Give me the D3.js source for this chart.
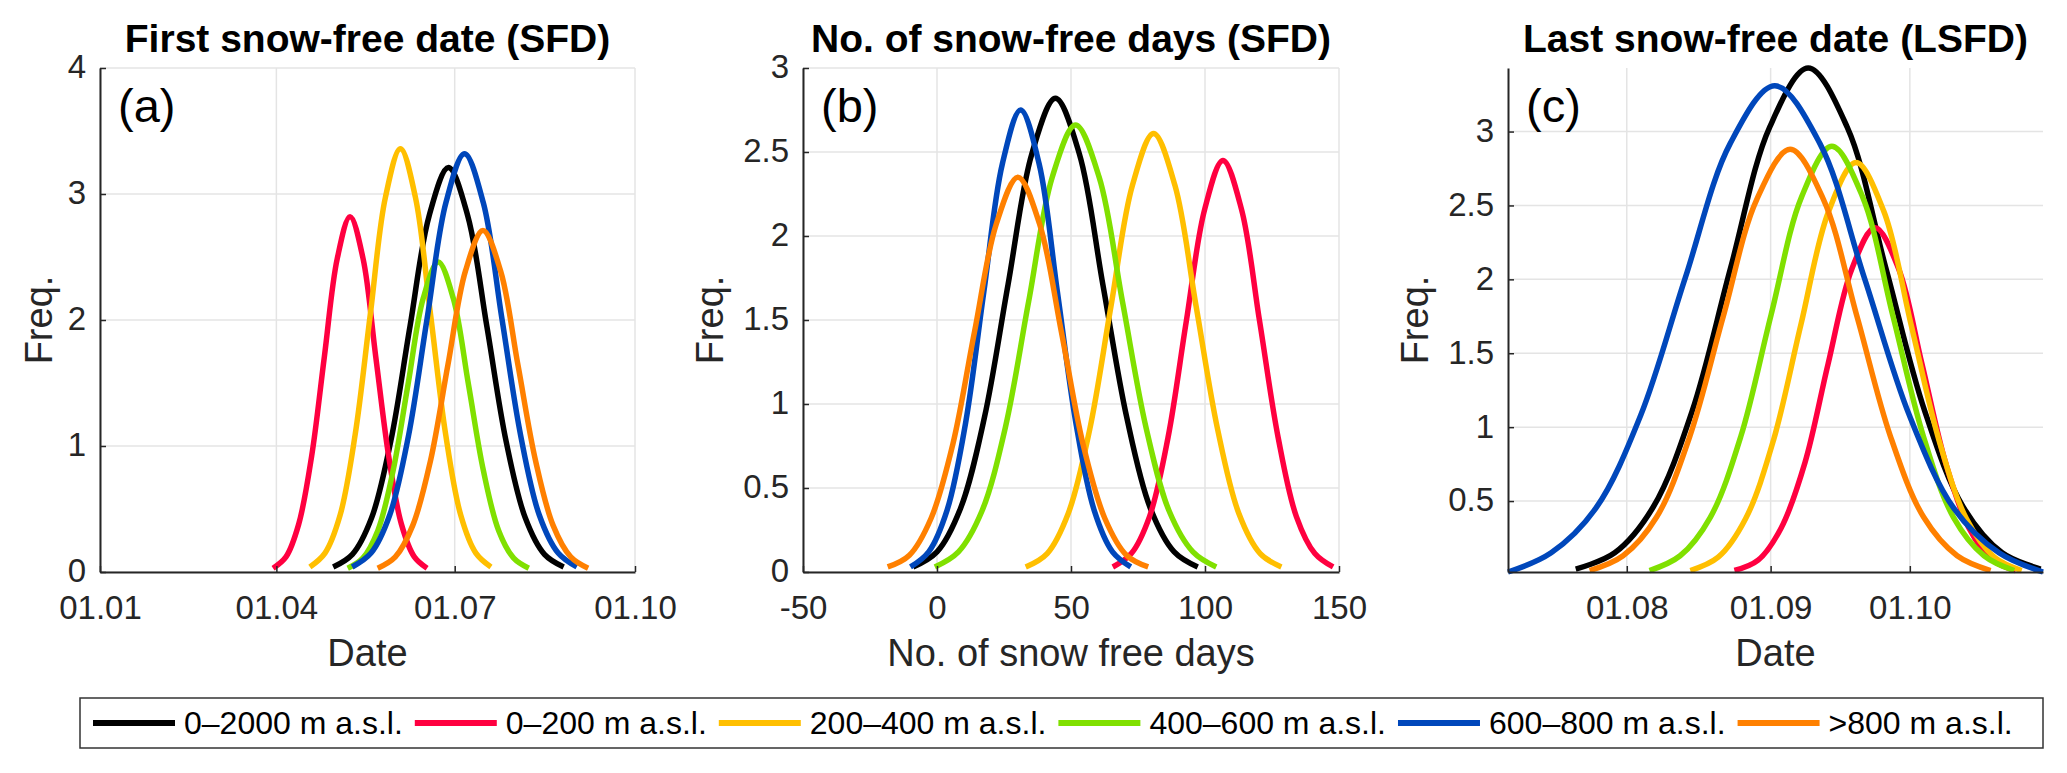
<!DOCTYPE html>
<html>
<head>
<meta charset="utf-8">
<script src="https://cdn.jsdelivr.net/npm/d3@7"></script>
<style>
  html, body { margin: 0; padding: 0; background: #fff; }
  svg { display: block; }
</style>
</head>
<body>
<svg id="chart" width="2067" height="773"></svg>
<script>
// ---------------- DATA ----------------
const seriesNames = ["0\u20132000 m a.s.l.", "0\u2013200 m a.s.l.", "200\u2013400 m a.s.l.", "400\u2013600 m a.s.l.", "600\u2013800 m a.s.l.", ">800 m a.s.l."];
const seriesColors = ["#000000", "#ff0040", "#ffbf00", "#80e000", "#0047bb", "#ff8000"];

// (a) First snow-free date: x = day of year (0 = 1 Jan)
const fsdDay = [
  [119.0,128.8,138.6,148.4,158.2,168.0,177.8,187.6,197.4,207.2,217.0,226.8,236.6],
  [88.3,94.9,101.4,108.0,114.5,121.1,127.6,134.2,140.7,147.3,153.8,160.4,166.9],
  [107.1,114.8,122.5,130.2,137.9,145.6,153.3,161.0,168.7,176.4,184.1,191.8,199.5],
  [126.4,134.1,141.8,149.5,157.2,164.9,172.6,180.3,188.0,195.7,203.4,211.1,218.8],
  [128.7,138.3,147.8,157.4,166.9,176.5,186.0,195.6,205.1,214.7,224.2,233.8,243.3],
  [141.7,150.7,159.6,168.6,177.5,186.5,195.4,204.4,213.3,222.3,231.2,240.2,249.1]
];
const fsdFreq = [
  [0.04,0.14,0.43,1.04,1.95,2.83,3.21,2.83,1.95,1.04,0.43,0.14,0.04],
  [0.03,0.12,0.38,0.92,1.71,2.49,2.82,2.49,1.71,0.92,0.38,0.12,0.03],
  [0.04,0.15,0.45,1.09,2.04,2.97,3.36,2.97,2.04,1.09,0.45,0.15,0.04],
  [0.03,0.11,0.33,0.80,1.49,2.17,2.46,2.17,1.49,0.80,0.33,0.11,0.03],
  [0.04,0.15,0.45,1.08,2.01,2.93,3.32,2.93,2.01,1.08,0.45,0.15,0.04],
  [0.03,0.12,0.37,0.88,1.64,2.39,2.71,2.39,1.64,0.88,0.37,0.12,0.03]
];
const fsdXTicks = [0, 90, 181, 273];
const fsdXTickLabels = ["01.01", "01.04", "01.07", "01.10"];
const fsdYTicks = [0, 1, 2, 3, 4];

// (b) Number of snow-free days
const sfdDays = [
  [-8.9,0.0,8.8,17.7,26.5,35.4,44.2,53.1,61.9,70.8,79.6,88.5,97.3],
  [65.6,72.5,79.3,86.2,93.0,99.9,106.7,113.6,120.4,127.3,134.1,141.0,147.8],
  [33.1,41.1,49.0,57.0,64.9,72.9,80.8,88.8,96.7,104.7,112.6,120.6,128.5],
  [-0.8,8.0,16.7,25.5,34.2,43.0,51.7,60.5,69.2,78.0,86.7,95.5,104.2],
  [-9.9,-3.1,3.8,10.7,17.5,24.4,31.2,38.1,44.9,51.8,58.6,65.5,72.3],
  [-18.4,-10.3,-2.2,5.9,14.0,22.1,30.2,38.3,46.4,54.5,62.6,70.7,78.8]
];
const sfdFreq = [
  [0.03,0.12,0.38,0.92,1.71,2.49,2.82,2.49,1.71,0.92,0.38,0.12,0.03],
  [0.03,0.11,0.33,0.80,1.49,2.16,2.45,2.16,1.49,0.80,0.33,0.11,0.03],
  [0.03,0.11,0.35,0.85,1.58,2.30,2.61,2.30,1.58,0.85,0.35,0.11,0.03],
  [0.03,0.12,0.36,0.86,1.61,2.35,2.66,2.35,1.61,0.86,0.36,0.12,0.03],
  [0.03,0.12,0.37,0.89,1.67,2.43,2.75,2.43,1.67,0.89,0.37,0.12,0.03],
  [0.03,0.10,0.32,0.76,1.43,2.07,2.35,2.07,1.43,0.76,0.32,0.10,0.03]
];
const sfdXTicks = [-50, 0, 50, 100, 150];
const sfdXTickLabels = ["-50", "0", "50", "100", "150"];
const sfdYTicks = [0, 0.5, 1, 1.5, 2, 2.5, 3];

// (c) Last snow-free date: x = day of year (0 = 1 Jan)
const lsfdDay = [
  [201.0,209.4,217.7,226.1,234.4,242.8,251.1,259.5,267.8,276.2,284.5,292.9,301.2],
  [235.2,240.3,245.3,250.4,255.4,260.5,265.5,270.6,275.6,280.7,285.7,290.8,295.8],
  [225.7,231.7,237.6,243.6,249.5,255.5,261.4,267.4,273.3,279.3,285.2,291.2,297.1],
  [216.9,223.5,230.0,236.6,243.1,249.7,256.2,262.8,269.3,275.9,282.4,289.0,295.5],
  [186.4,195.7,205.3,215.0,224.6,234.3,243.9,253.6,263.2,272.9,282.5,292.2,301.7],
  [204.0,211.2,218.4,225.6,232.8,240.0,247.2,254.4,261.6,268.8,276.0,283.2,290.4]
];
const lsfdFreq = [
  [0.04,0.15,0.46,1.11,2.08,3.03,3.43,3.03,2.08,1.11,0.46,0.15,0.04],
  [0.03,0.10,0.32,0.76,1.43,2.07,2.35,2.07,1.43,0.76,0.32,0.10,0.03],
  [0.03,0.12,0.38,0.91,1.69,2.46,2.79,2.46,1.69,0.91,0.38,0.12,0.03],
  [0.03,0.13,0.39,0.94,1.76,2.56,2.90,2.56,1.76,0.94,0.39,0.13,0.03],
  [0.02,0.15,0.45,1.08,2.01,2.92,3.31,2.92,2.01,1.08,0.45,0.15,0.02],
  [0.03,0.13,0.39,0.94,1.75,2.54,2.88,2.54,1.75,0.94,0.39,0.13,0.03]
];
const lsfdXTicks = [212, 243, 273];
const lsfdXTickLabels = ["01.08", "01.09", "01.10"];
const lsfdYTicks = [0.5, 1, 1.5, 2, 2.5, 3];

const panelTitles = ["First snow-free date (SFD)", "No. of snow-free days (SFD)", "Last snow-free date (LSFD)"];
const panelXLabels = ["Date", "No. of snow free days", "Date"];
const panelLetters = ["(a)", "(b)", "(c)"];
const yLabel = "Freq.";

// ---------------- DRAW ----------------
const FONT = "'Liberation Sans', Arial, Helvetica, sans-serif";
const svg = d3.select("#chart");
svg.append("rect").attr("width", 2067).attr("height", 773).attr("fill", "#fff");

const TOP = 68, BOTTOM = 572;

const panels = [
  { x0: 100, x1: 635, xDomain: [0, 273], yDomain: [0, 4], xTicks: fsdXTicks, xLabels: fsdXTickLabels, yTicks: fsdYTicks, xs: fsdDay, ys: fsdFreq, ylabX: 52 },
  { x0: 803, x1: 1339, xDomain: [-50, 150], yDomain: [0, 3], xTicks: sfdXTicks, xLabels: sfdXTickLabels, yTicks: sfdYTicks, xs: sfdDays, ys: sfdFreq, ylabX: 723 },
  { x0: 1508, x1: 2043, xDomain: [186.4, 301.7], yDomain: [0.02, 3.43], xTicks: lsfdXTicks, xLabels: lsfdXTickLabels, yTicks: lsfdYTicks, xs: lsfdDay, ys: lsfdFreq, ylabX: 1428 }
];

panels.forEach((p, pi) => {
  const x = d3.scaleLinear().domain(p.xDomain).range([p.x0, p.x1]);
  const y = d3.scaleLinear().domain(p.yDomain).range([BOTTOM, TOP]);
  const g = svg.append("g");

  // grid
  g.append("g").selectAll("line.vg").data(p.xTicks).join("line")
    .attr("x1", d => x(d)).attr("x2", d => x(d)).attr("y1", TOP).attr("y2", BOTTOM)
    .attr("stroke", "#e4e4e4").attr("stroke-width", 1.5);
  g.append("g").selectAll("line.hg").data(p.yTicks).join("line")
    .attr("y1", d => y(d)).attr("y2", d => y(d)).attr("x1", p.x0).attr("x2", p.x1)
    .attr("stroke", "#e4e4e4").attr("stroke-width", 1.5);

  // curves
  const line = d3.line().x(d => x(d[0])).y(d => y(d[1])).curve(d3.curveCatmullRom.alpha(0.5));
  p.xs.forEach((xv, si) => {
    const pts = xv.map((v, k) => [v, p.ys[si][k]]);
    g.append("path").attr("d", line(pts)).attr("fill", "none")
      .attr("stroke", seriesColors[si]).attr("stroke-width", 5.5)
      .attr("stroke-linejoin", "round");
  });

  // axes
  const xAxis = d3.axisBottom(x).tickValues(p.xTicks).tickFormat((d, i) => p.xLabels[i])
    .tickSizeInner(-6).tickSizeOuter(0);
  const gx = g.append("g").attr("transform", `translate(0,${BOTTOM})`).call(xAxis);
  gx.attr("font-size", 33).attr("font-family", FONT);
  gx.select(".domain").attr("stroke", "#262626").attr("stroke-width", 2);
  gx.selectAll(".tick line").attr("stroke", "#262626").attr("stroke-width", 1.5);
  gx.selectAll(".tick text").attr("fill", "#262626").attr("y", 47).attr("dy", 0);

  const yAxis = d3.axisLeft(y).tickValues(p.yTicks).tickFormat(d3.format("~g"))
    .tickSizeInner(-6).tickSizeOuter(0).tickPadding(14);
  const gy = g.append("g").attr("transform", `translate(${p.x0},0)`).call(yAxis);
  gy.attr("font-size", 33).attr("font-family", FONT);
  gy.select(".domain").attr("stroke", "#262626").attr("stroke-width", 2);
  gy.selectAll(".tick line").attr("stroke", "#262626").attr("stroke-width", 1.5);
  gy.selectAll(".tick text").attr("fill", "#262626").attr("dy", "0.3em");

  // labels
  const cx = (p.x0 + p.x1) / 2;
  g.append("text").attr("x", cx).attr("y", 52).attr("text-anchor", "middle")
    .attr("font-family", FONT).attr("font-weight", "bold").attr("font-size", 39)
    .attr("fill", "#000").text(panelTitles[pi]);
  g.append("text").attr("x", cx).attr("y", 666).attr("text-anchor", "middle")
    .attr("font-family", FONT).attr("font-size", 38).attr("fill", "#262626").text(panelXLabels[pi]);
  g.append("text").attr("transform", `translate(${p.ylabX},${(TOP + BOTTOM) / 2}) rotate(-90)`)
    .attr("text-anchor", "middle").attr("font-family", FONT).attr("font-size", 38)
    .attr("fill", "#262626").text(yLabel);
  g.append("text").attr("x", p.x0 + 18).attr("y", 122)
    .attr("font-family", FONT).attr("font-size", 47).attr("fill", "#000").text(panelLetters[pi]);
});

// legend
const lg = svg.append("g");
lg.append("rect").attr("x", 80).attr("y", 698).attr("width", 1963).attr("height", 50)
  .attr("fill", "#fff").attr("stroke", "#333").attr("stroke-width", 1.5);
let lx = 93;
seriesNames.forEach((name, i) => {
  lg.append("line").attr("x1", lx).attr("x2", lx + 82).attr("y1", 723).attr("y2", 723)
    .attr("stroke", seriesColors[i]).attr("stroke-width", 6);
  const t = lg.append("text").attr("x", lx + 91).attr("y", 734)
    .attr("font-family", FONT).attr("font-size", 32).attr("fill", "#000").text(name);
  lx = lx + 91 + t.node().getComputedTextLength() + 12;
});
</script>
</body>
</html>
